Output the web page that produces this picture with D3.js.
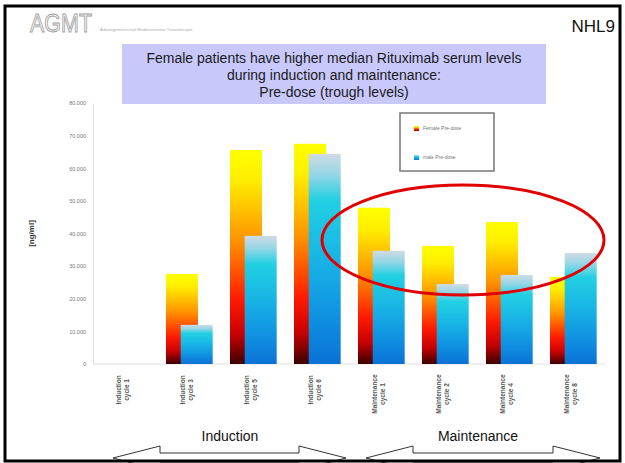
<!DOCTYPE html>
<html>
<head>
<meta charset="utf-8">
<script src="https://cdn.jsdelivr.net/npm/d3@7"></script>
<style>
  body { margin: 0; background: #fff; }
  svg { display: block; font-family: "Liberation Sans", Arial, sans-serif; }
</style>
</head>
<body>
<script>
'use strict';

// data (median pre-dose levels, ng/ml)
var categories = ['Induction|cycle 1', 'Induction|cycle 3', 'Induction|cycle 5', 'Induction|cycle 6',
                  'Maintenance|cycle 1', 'Maintenance|cycle 2', 'Maintenance|cycle 4', 'Maintenance|cycle 8'];
var femaleValues = [0, 27600, 65600, 67500, 47900, 36200, 43500, 26700];
var maleValues = [0, 12000, 39300, 64400, 34700, 24500, 27300, 34000];
var yTicks = [0, 10000, 20000, 30000, 40000, 50000, 60000, 70000, 80000];
var titleLines = ['Female patients have higher median Rituximab serum levels',
                  'during induction and maintenance:',
                  'Pre-dose (trough levels)'];

var W = 625, H = 463;
var svg = d3.select('body').append('svg').attr('width', W).attr('height', H);

//gradients
var defs = svg.append('defs');
var fem = defs.append('linearGradient').attr('id', 'gFem').attr('x1', 0).attr('y1', 0).attr('x2', 0).attr('y2', 1);
[[0, '#ffff00'], [0.14, '#ffee00'], [0.42, '#ff9400'], [0.7, '#ff1a00'], [0.86, '#c80000'], [1, '#3c0000']].forEach(function (s) {
  fem.append('stop').attr('offset', s[0]).attr('stop-color', s[1]);
});
var mal = defs.append('linearGradient').attr('id', 'gMal').attr('x1', 0).attr('y1', 0).attr('x2', 0).attr('y2', 1);
[[0, '#cfdbe4'], [0.1, '#94d6e6'], [0.22, '#22d0e2'], [0.5, '#18b4e6'], [0.8, '#0f8ee0'], [1, '#0a72d6']].forEach(function (s) {
  mal.append('stop').attr('offset', s[0]).attr('stop-color', s[1]);
});

//scales
var x = d3.scaleBand().domain(categories).range([93, 605]);
var y = d3.scaleLinear().domain([0, 80000]).range([364, 103]);
var bw = x.bandwidth();

//axes
var loc = d3.formatLocale({ decimal: ',', thousands: '.', grouping: [3], currency: ['', ''] });
var yAxis = svg.append('g').attr('transform', 'translate(93,0)')
  .call(d3.axisLeft(y).tickValues(yTicks).tickSize(0).tickPadding(7).tickFormat(loc.format(',.0f')));
yAxis.select('.domain').attr('stroke', '#e0e0e0');
yAxis.selectAll('text').attr('fill', '#777').style('font-size', '5.5px');

svg.append('line').attr('x1', 93).attr('x2', 605).attr('y1', y(0)).attr('y2', y(0)).attr('stroke', '#e0e0e0');

svg.append('text').attr('transform', 'translate(34,' + ((y(0) + y(80000)) / 2) + ') rotate(-90)')
  .attr('text-anchor', 'middle').style('font-size', '8px').style('font-weight', 'bold').attr('fill', '#333')
  .text('[ng/ml]');

//bars
svg.append('g').selectAll('rect').data(femaleValues).enter().append('rect')
  .attr('x', function (d, i) { return x(categories[i]) + bw * 0.14; })
  .attr('y', function (d) { return y(d); })
  .attr('width', bw * 0.5)
  .attr('height', function (d) { return y(0) - y(d); })
  .attr('fill', 'url(#gFem)');

svg.append('g').selectAll('rect').data(maleValues).enter().append('rect')
  .attr('x', function (d, i) { return x(categories[i]) + bw * 0.37; })
  .attr('y', function (d) { return y(d); })
  .attr('width', bw * 0.5)
  .attr('height', function (d) { return y(0) - y(d); })
  .attr('fill', 'url(#gMal)');

//x labels, rotated
categories.forEach(function (c) {
  var parts = c.split('|');
  var cx = x(c) + bw / 2;
  var len = parts[0].length * 4.2;
  var g = svg.append('g').attr('transform', 'translate(' + cx + ',' + (371 + len / 2) + ') rotate(-90)');
  g.append('text').attr('x', 0).attr('y', -4).attr('text-anchor', 'middle')
    .style('font-size', '6.5px').style('font-weight', 'bold').attr('fill', '#555').text(parts[0]);
  g.append('text').attr('x', 0).attr('y', 4).attr('text-anchor', 'middle')
    .style('font-size', '6.5px').style('font-weight', 'bold').attr('fill', '#555').text(parts[1]);
});

//legend
var legend = svg.append('g');
legend.append('rect').attr('x', 400).attr('y', 113).attr('width', 94).attr('height', 58)
  .attr('fill', '#fff').attr('stroke', '#777').attr('stroke-width', 1.5);
var legendData = [{ fill: 'url(#gFem)', label: 'Female Pre-dose' }, { fill: 'url(#gMal)', label: 'male Pre-dose' }];
legend.selectAll('.lm').data(legendData).enter().append('rect')
  .attr('x', 414).attr('y', function (d, i) { return 126 + 29 * i; })
  .attr('width', 5).attr('height', 5).attr('fill', function (d) { return d.fill; });
legend.selectAll('.lt').data(legendData).enter().append('text')
  .attr('x', 423).attr('y', function (d, i) { return 130 + 29 * i; })
  .style('font-size', '5px').attr('fill', '#777').text(function (d) { return d.label; });

//title box
svg.append('rect').attr('x', 122).attr('y', 44).attr('width', 424).attr('height', 60).attr('fill', '#c8c8fa');
svg.selectAll('.title').data(titleLines).enter().append('text')
  .attr('x', 334).attr('y', function (d, i) { return 63 + 17 * i; })
  .attr('text-anchor', 'middle').style('font-size', '14px').attr('fill', '#1a1a1a')
  .text(function (d) { return d; });

//logo and slide tag
svg.append('text').attr('x', 30).attr('y', 32).style('font-size', '25px')
  .attr('textLength', 62).attr('lengthAdjust', 'spacingAndGlyphs')
  .attr('fill', '#fafafa').attr('stroke', '#a0a0a0').attr('stroke-width', 0.9)
  .text('AGMT');
svg.append('text').attr('x', 100).attr('y', 31).style('font-size', '4px').attr('fill', '#aaa')
  .text('Arbeitsgemeinschaft Medikamentöse Tumortherapie');
svg.append('text').attr('x', 615).attr('y', 32).attr('text-anchor', 'end').style('font-size', '17px')
  .attr('fill', '#111').text('NHL9');

//highlight ellipse
svg.append('ellipse').attr('cx', 463).attr('cy', 240).attr('rx', 141).attr('ry', 55)
  .attr('fill', 'none').attr('stroke', '#e00000').attr('stroke-width', 3);

//phase labels and arrows
svg.append('text').attr('x', 230).attr('y', 441).attr('text-anchor', 'middle').style('font-size', '14px')
  .attr('fill', '#111').text('Induction');
svg.append('text').attr('x', 478).attr('y', 441).attr('text-anchor', 'middle').style('font-size', '14px')
  .attr('fill', '#111').text('Maintenance');

function arrow(x0, x1) {
  var h = 47, cy = 458;
  var pts = [[x0, cy], [x0 + h, cy - 12], [x0 + h, cy - 5], [x1 - h, cy - 5], [x1 - h, cy - 12], [x1, cy],
             [x1 - h, cy + 12], [x1 - h, cy + 5], [x0 + h, cy + 5], [x0 + h, cy + 12]];
  svg.append('polygon').attr('points', pts.map(function (p) { return p.join(','); }).join(' '))
    .attr('fill', '#fff').attr('stroke', '#333').attr('stroke-width', 1);
}
arrow(113, 346);
arrow(366, 600);

//frame
svg.append('rect').attr('x', 5).attr('y', 6).attr('width', 615).attr('height', 455)
  .attr('fill', 'none').attr('stroke', '#000').attr('stroke-width', 3);
</script>
</body>
</html>
